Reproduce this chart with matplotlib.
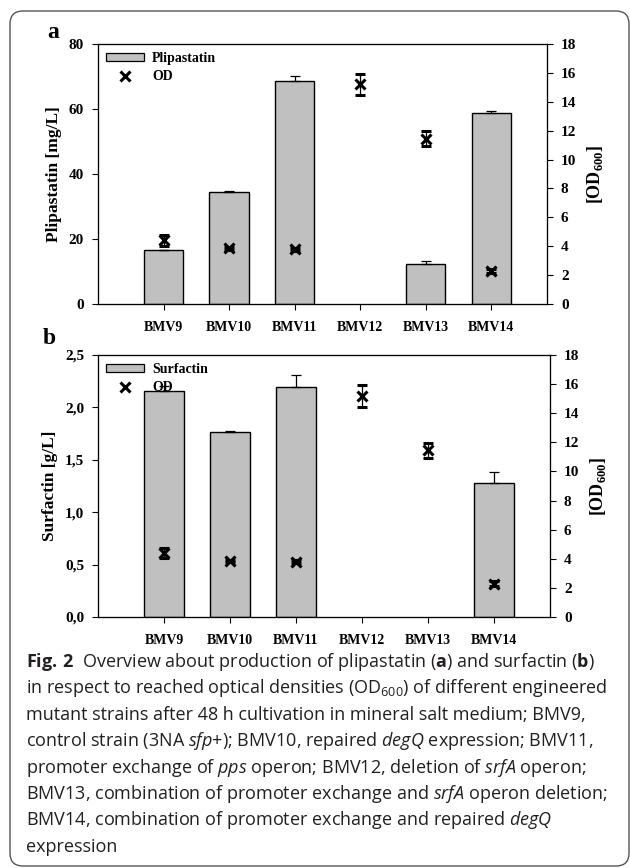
import matplotlib
matplotlib.use('Agg')
import matplotlib.pyplot as plt
from matplotlib.patches import FancyBboxPatch, Patch
from matplotlib.lines import Line2D
import numpy as np

strains = ['BMV9', 'BMV10', 'BMV11', 'BMV12', 'BMV13', 'BMV14']
plipastatin = [16.6, 34.5, 68.6, 0, 12.2, 58.9]
plipastatin_err = [0.0, 0.4, 1.7, 0, 0.9, 0.6]
surfactin = [2.16, 1.77, 2.19, 0, 0, 1.28]
surfactin_err = [0.04, 0.005, 0.12, 0, 0, 0.10]
od = [4.4, 3.85, 3.8, 15.2, 11.45, 2.3]
od_err = [0.35, 0.1, 0.1, 0.75, 0.5, 0.15]

caption_lines = [
    r"$\mathbf{Fig.\,2}$  Overview about production of plipastatin ($\mathbf{a}$) and surfactin ($\mathbf{b}$)",
    r"in respect to reached optical densities (OD$_{\mathrm{600}}$) of different engineered",
    r"mutant strains after 48 h cultivation in mineral salt medium; BMV9,",
    r"control strain (3NA $\mathit{sfp}$+); BMV10, repaired $\mathit{degQ}$ expression; BMV11,",
    r"promoter exchange of $\mathit{pps}$ operon; BMV12, deletion of $\mathit{srfA}$ operon;",
    r"BMV13, combination of promoter exchange and $\mathit{srfA}$ operon deletion;",
    r"BMV14, combination of promoter exchange and repaired $\mathit{degQ}$",
    r"expression",
]

SERIF = 'Liberation Serif'
plt.rcParams['font.family'] = SERIF
plt.rcParams['font.weight'] = 'bold'
plt.rcParams['mathtext.fontset'] = 'custom'
plt.rcParams['mathtext.rm'] = 'Open Sans:weight=normal'
plt.rcParams['mathtext.it'] = 'Open Sans:style=italic:weight=normal'
plt.rcParams['mathtext.bf'] = 'Open Sans:weight=bold'

W, H = 630, 868
fig = plt.figure(figsize=(W / 100, H / 100), dpi=100)

BAR_COLOR = '#c0c0c0'


def panel(rect, values, errs, ylim, yticks, yticklabels, ylabel, legend_label, letter, letter_xy):
    ax = fig.add_axes(rect)
    x = np.arange(len(strains))
    vals = np.array(values, dtype=float)
    er = np.array(errs, dtype=float)
    m = vals > 0
    ax.bar(x[m], vals[m], width=0.6, color=BAR_COLOR, edgecolor='black', linewidth=1.0, zorder=2)
    ax.errorbar(x[m], vals[m], yerr=[np.zeros(m.sum()), er[m]], fmt='none', ecolor='black',
                elinewidth=0.9, capsize=3.5, capthick=0.9, zorder=3)
    ax.set_xlim(-1.0, 5.85)
    ax.set_ylim(*ylim)
    ax.set_yticks(yticks)
    ax.set_yticklabels(yticklabels)
    ax.set_xticks(x)
    ax.set_xticklabels(strains)
    ax.tick_params(axis='y', direction='out', length=4, width=0.8, labelsize=11, pad=6)
    ax.tick_params(axis='x', direction='out', length=4, width=0.8, labelsize=10, pad=8)
    ax.set_ylabel(ylabel, fontsize=12.5, fontweight='bold', labelpad=5)
    for sp in ax.spines.values():
        sp.set_linewidth(0.9)
        sp.set_color('#333333')

    ax2 = ax.twinx()
    ax2.errorbar(x, od, yerr=od_err, fmt='x', color='black', ms=6.5, mew=2.2,
                 elinewidth=0.9, capsize=3.5, capthick=0.9, zorder=4)
    ax2.set_ylim(0, 18)
    ax2.set_yticks(np.arange(0, 19, 2))
    ax2.tick_params(axis='y', direction='out', length=4, width=0.8, labelsize=11, pad=6)
    ax2.set_ylabel(r'[OD$_\mathregular{600}$]', fontsize=13, fontweight='bold', labelpad=6)
    ax2.set_xlim(-1.0, 5.85)

    handles = [Patch(facecolor=BAR_COLOR, edgecolor='black', linewidth=0.9),
               Line2D([], [], marker='x', color='black', ls='none', ms=6.5, mew=2.2)]
    leg = ax.legend(handles, [legend_label, 'OD'], loc='upper left', frameon=False,
                    fontsize=10, handlelength=2.7, handleheight=0.5, handletextpad=0.6,
                    labelspacing=0.35, borderaxespad=0.3, borderpad=0.3)
    leg.set_zorder(1)
    fig.text(letter_xy[0] / W, 1 - letter_xy[1] / H, letter, fontsize=17, fontweight='bold',
             ha='center', va='center')
    return ax, ax2


panel([98 / W, 1 - 304 / H, 449 / W, 260 / H], plipastatin, plipastatin_err, (0, 80),
      [0, 20, 40, 60, 80], ['0', '20', '40', '60', '80'], 'Plipastatin [mg/L]', 'Plipastatin',
      'a', (53, 32))
panel([98 / W, 1 - 617 / H, 452 / W, 262 / H], surfactin, surfactin_err, (0, 2.5),
      [0, 0.5, 1.0, 1.5, 2.0, 2.5], ['0,0', '0,5', '1,0', '1,5', '2,0', '2,5'],
      'Surfactin [g/L]', 'Surfactin', 'b', (49, 339))

for i, line in enumerate(caption_lines):
    y = 667 + 26.4 * i
    fig.text(26 / W, 1 - y / H, line, fontsize=13.0, fontfamily='Open Sans', fontweight='normal',
             ha='left', va='baseline', color='#231f20')

border = FancyBboxPatch((10, H - 866), 619, 855, boxstyle='round,pad=0,rounding_size=13',
                        transform=None, fill=False, edgecolor='#555555', linewidth=1.0)
fig.add_artist(border)

fig.savefig('out.png', dpi=100)
